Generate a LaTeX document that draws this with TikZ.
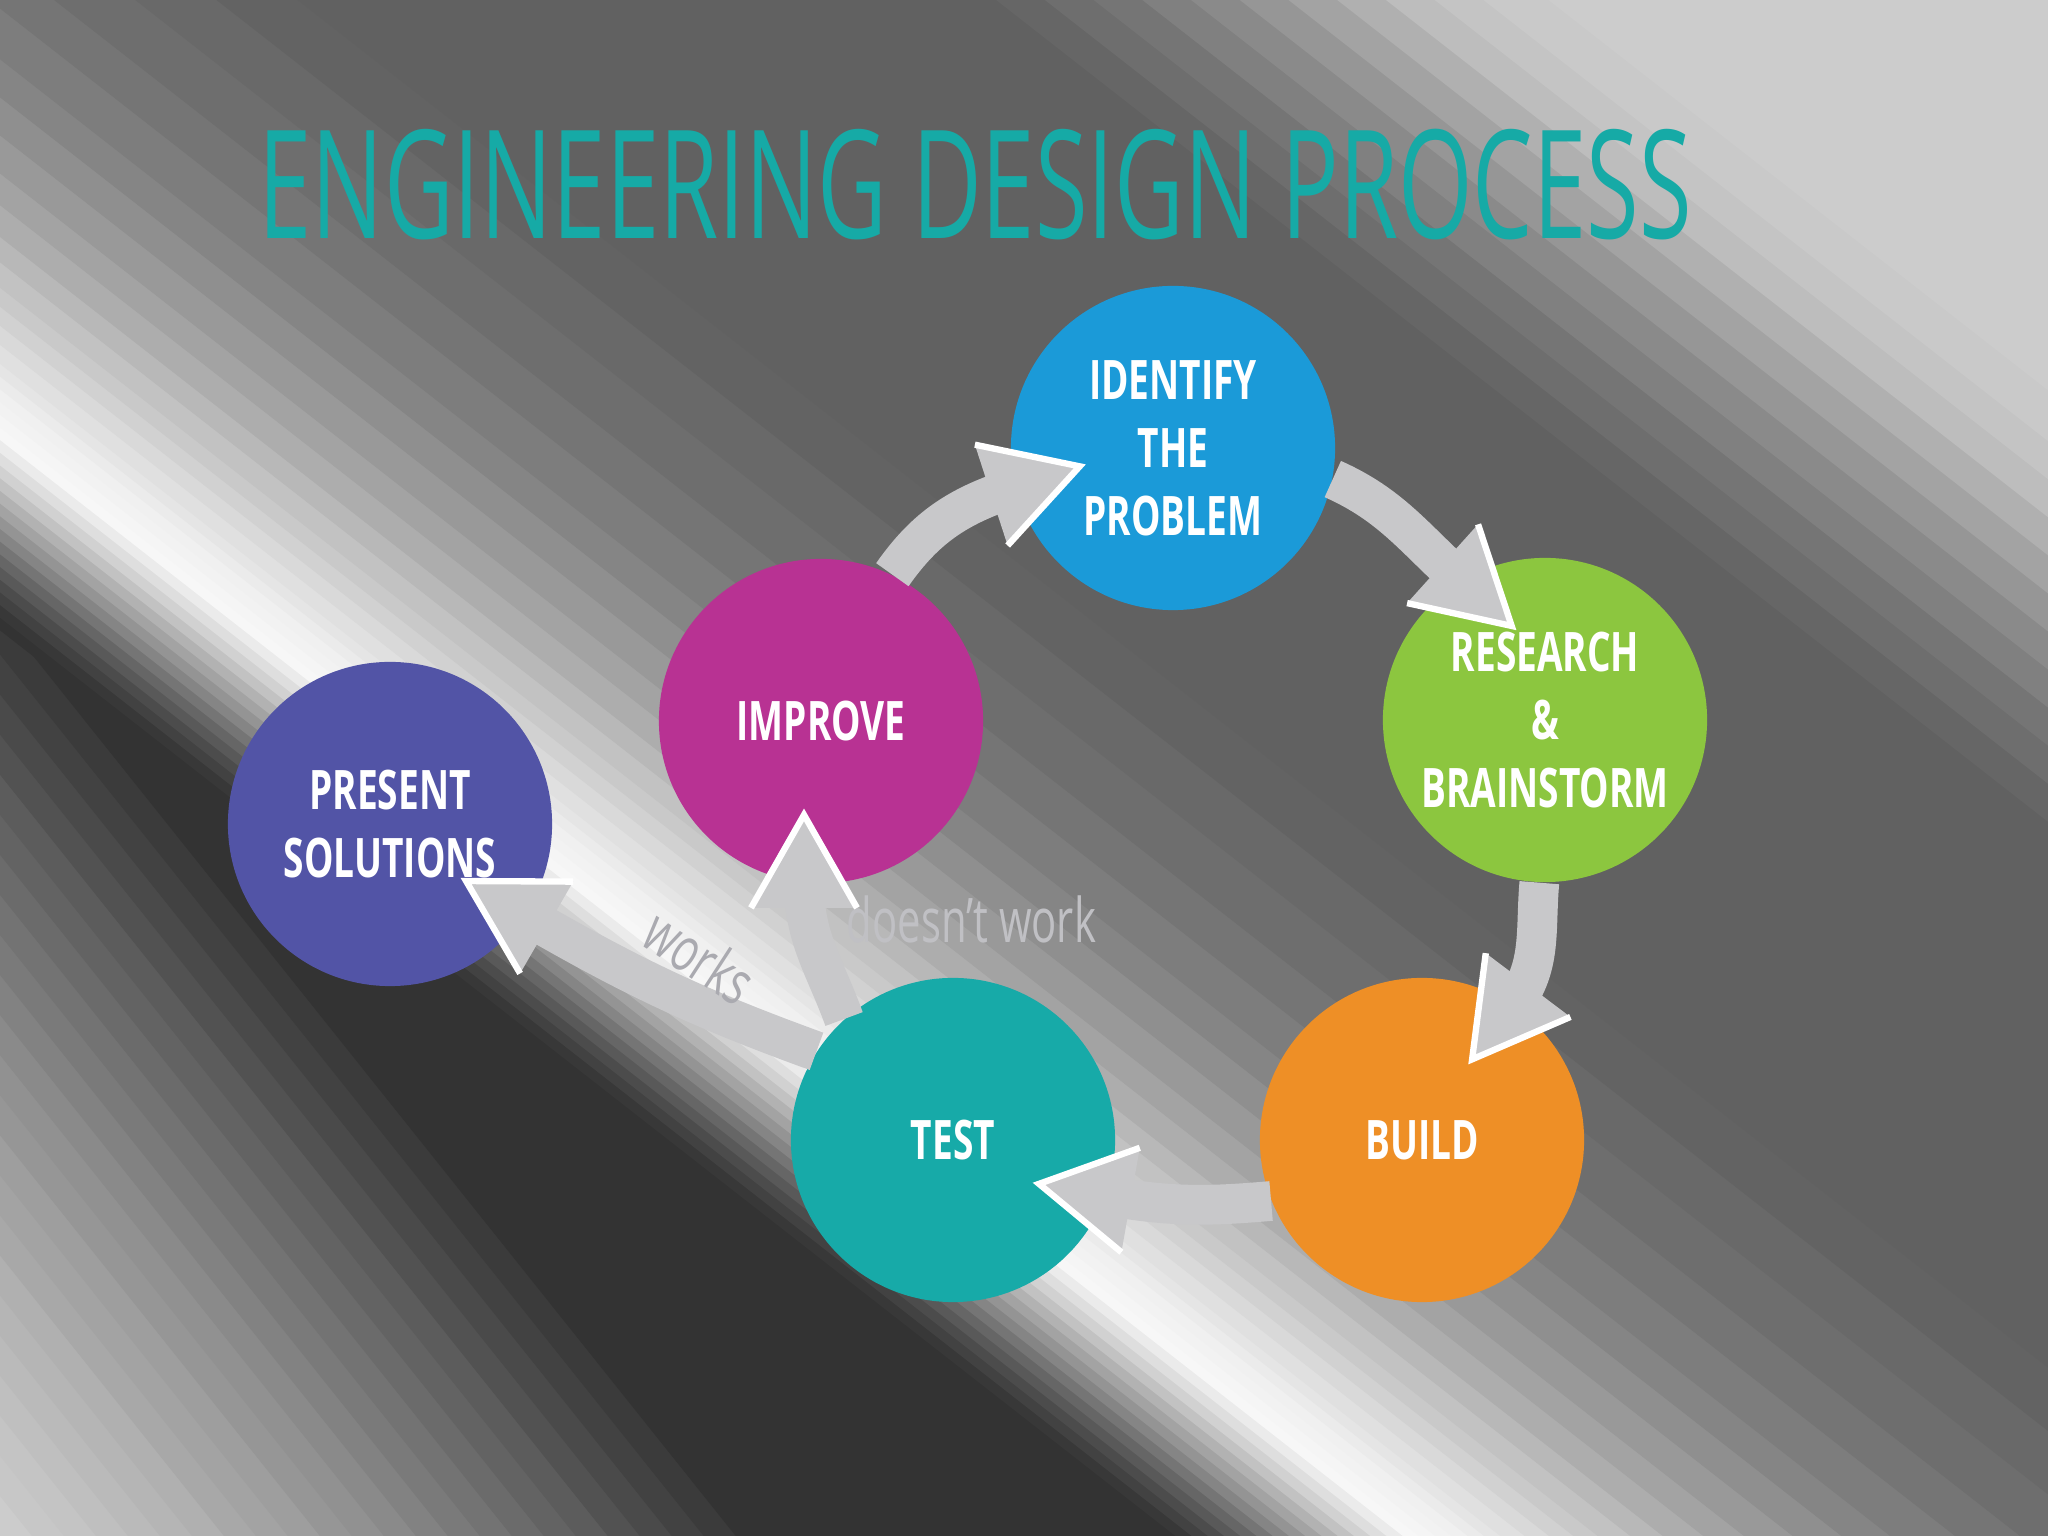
\documentclass[tikz,border=0pt]{standalone}
\usepackage{fontspec}
\usetikzlibrary{decorations.markings}
\newfontfamily\labelfont[FakeStretch=0.68]{Open Sans}
\newfontfamily\titlefont[FakeStretch=0.635]{Open Sans}
\definecolor{titleteal}{RGB}{22,170,166}
\definecolor{idblue}{RGB}{27,154,216}
\definecolor{resgreen}{RGB}{140,198,63}
\definecolor{buildorange}{RGB}{238,143,38}
\definecolor{testteal}{RGB}{23,170,168}
\definecolor{improvepink}{RGB}{184,50,147}
\definecolor{presentblue}{RGB}{82,84,166}
\definecolor{arrowgray}{RGB}{200,200,202}
\definecolor{notegray}{RGB}{192,192,196}
\definecolor{worksgray}{RGB}{170,170,176}
\tikzset{
  stage/.style={circle, minimum size=3.24cm, inner sep=0pt, text=white, align=center,
    font=\labelfont\bfseries\fontsize{15.5pt}{19.3pt}\selectfont},
  flow/.style={draw=arrowgray, line width=11.3pt, postaction={decorate},
    decoration={markings, mark=at position 1 with {
      \fill[arrowgray] (-25,53) -- (68,0) -- (-25,-53) -- cycle;
      \draw[white, line width=1.8pt] (-25,53) -- (68,0) -- (-25,-53);}}},
  note/.style={text=notegray, inner sep=0pt, font=\labelfont\fontsize{17.5pt}{21pt}\selectfont}
}
\begin{document}
\begin{tikzpicture}[x=0.01cm, y=0.01cm]
  \useasboundingbox (0,0) rectangle (2048,1536);
  % striped metal background
  \begin{scope}
    \clip (0,0) rectangle (2048,1536);
    % lower left, below the streak
    \begin{scope}[rotate=-51.4]
      \foreach \u/\p in {-300/80, 25/78, 50/77, 75/75, 100/73, 125/71, 150/69, 175/66,
          200/64, 225/62, 250/59, 275/57, 300/54, 325/51, 350/48, 375/45, 400/42,
          425/39, 450/36, 475/32, 500/29, 525/26, 550/23, 575/20}
        \fill[white!\p!black] (-3000,\u) rectangle (3000,3000);
    \end{scope}
    % the streak and the upper part
    \begin{scope}[shift={(0,1096)}, rotate=-38]
      \foreach \s/\p in {-150/20, -140/22, -130/26, -120/30, -110/35, -100/40,
          -90/46, -80/52, -70/58, -60/64, -50/70, -40/76, -30/82, -20/87, -10/92, 0/97,
          10/96, 20/95, 30/94, 40/92, 50/90, 60/88, 75/85, 90/82, 105/79, 120/76, 140/72,
          160/68, 185/64, 210/60, 240/56, 270/52, 300/49, 340/46, 380/43, 430/41, 480/39,
          530/38, 960/40, 990/43, 1020/46, 1050/50, 1080/54, 1110/59, 1140/64, 1170/69,
          1200/74, 1230/77, 1260/79, 1300/80}
        \fill[white!\p!black] (-3000,\s) rectangle (3000,3000);
    \end{scope}
  \end{scope}

  \node[anchor=base west, inner sep=0pt, text=titleteal,
    font=\titlefont\fontsize{42.9pt}{50pt}\selectfont] (title) at (258,1297) {ENGINEERING DESIGN PROCESS};

  \node[stage, fill=idblue] (identify) at (1173,1088) {IDENTIFY\\THE\\PROBLEM};
  \node[stage, fill=resgreen] (research) at (1545,816) {RESEARCH\\\&\\BRAINSTORM};
  \node[stage, fill=buildorange] (build) at (1422,396) {BUILD};
  \node[stage, fill=testteal] (test) at (953,396) {TEST};
  \node[stage, fill=improvepink] (improve) at (821,815) {IMPROVE};
  \node[stage, fill=presentblue] (present) at (390,712) {PRESENT\\SOLUTIONS};

  \node[note, anchor=base west] (fail) at (846,593) {doesn’t work};

  \draw[flow] (improve.64) to[out=55, in=198] (identify.194);
  \draw[flow] (identify.349) to[out=-24, in=138] (research.121);
  \draw[flow] (research.268) to[out=-95, in=53] (build.56);
  \draw[flow] (build.202) to[out=185, in=-10] (test.340);
  \draw[flow] (test.132) to[out=110, in=-90] (improve.264);
  \draw[flow] (test.147) to[out=160, in=-30] (present.326);

  \node[note, text=worksgray, rotate=-33] (pass) at (700,580) {works};
\end{tikzpicture}
\end{document}
